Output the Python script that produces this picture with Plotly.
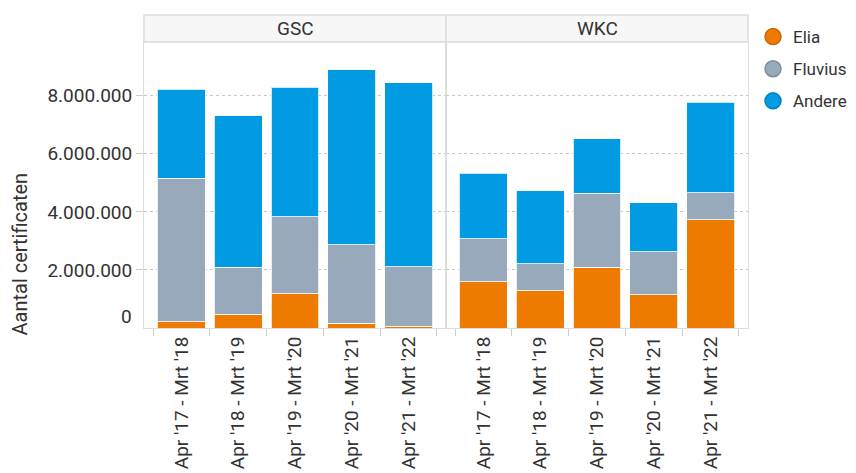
import plotly.graph_objects as go

periods = ["Apr '17 - Mrt '18", "Apr '18 - Mrt '19", "Apr '19 - Mrt '20",
           "Apr '20 - Mrt '21", "Apr '21 - Mrt '22"]
panels = ["GSC", "WKC"]
series = ["Elia", "Fluvius", "Andere"]

gsc_elia = [220000, 470000, 1180000, 160000, 60000]
gsc_fluvius = [4940000, 1630000, 2650000, 2710000, 2050000]
gsc_andere = [3070000, 5210000, 4460000, 6030000, 6340000]

wkc_elia = [1590000, 1280000, 2100000, 1140000, 3720000]
wkc_fluvius = [1480000, 930000, 2540000, 1480000, 940000]
wkc_andere = [2260000, 2510000, 1870000, 1690000, 3110000]

y_ticks = [2000000, 4000000, 6000000, 8000000]

colors = {"Elia": "#EF7A00", "Fluvius": "#97A9BA", "Andere": "#009BE3"}
outlines = {"Elia": "#C96600", "Fluvius": "#7D8D9C", "Andere": "#0080C0"}

data = {
    "GSC": {"Elia": gsc_elia, "Fluvius": gsc_fluvius, "Andere": gsc_andere},
    "WKC": {"Elia": wkc_elia, "Fluvius": wkc_fluvius, "Andere": wkc_andere},
}

FONT = "Roboto, Arial, sans-serif"
TXT = "#333333"

fig = go.Figure()
for i, p in enumerate(panels):
    ax = "" if i == 0 else "2"
    for s in series:
        fig.add_trace(go.Bar(
            x=periods, y=data[p][s], name=s,
            xaxis="x" + ax, yaxis="y" + ax,
            marker=dict(color=colors[s], line=dict(color="rgba(255,255,255,0.8)", width=1)),
            showlegend=False, hovertemplate="%{y:,.0f}<extra>" + s + "</extra>",
        ))

# legend entries with circular symbols
for s in series:
    fig.add_trace(go.Scatter(
        x=[None], y=[None], mode="markers", name=s, legendgroup=s,
        marker=dict(symbol="circle", size=20, color=colors[s],
                    line=dict(color=outlines[s], width=1.5)),
        xaxis="x", yaxis="y",
    ))

# the page body adds an 8px margin; the figure is sized to fit inside the window
W, H = 848, 465
ml, mr, mt, mb = 136, 108, 7, 145
plot_w = W - ml - mr
plot_h = H - mt - mb
y_top = (320 - 34) / plot_h  # top of plotting area in paper coords (below strip)

xcommon = dict(
    type="category", range=[-0.66, 4.66], tickangle=-90, automargin=False,
    tickson="boundaries", ticks="outside", ticklen=7, tickcolor="#cccccc",
    showline=True, linecolor="#dddddd", linewidth=1, mirror=True,
    showgrid=False, tickfont=dict(family=FONT, size=19, color=TXT),
    fixedrange=True,
)
ycommon = dict(
    range=[0, 9850000], tickvals=y_ticks, tickformat=",.0f", automargin=False,
    showgrid=True, gridcolor="#c8c8c8", griddash="dot", gridwidth=1,
    zeroline=False, showline=True, linecolor="#dddddd", mirror=True,
    ticks="outside", ticklen=7, tickcolor="#cccccc",
    tickfont=dict(family=FONT, size=19, color=TXT), fixedrange=True,
)

half = 0.5
fig.update_layout(
    width=W, height=H,
    margin=dict(l=ml, r=mr, t=mt, b=mb, autoexpand=False),
    paper_bgcolor="white", plot_bgcolor="white",
    barmode="stack", bargap=0.155,
    separators=",.",
    font=dict(family=FONT, color=TXT, size=16),
    xaxis=dict(domain=[0, half], anchor="y", **xcommon),
    xaxis2=dict(domain=[half, 1], anchor="y2", **xcommon),
    yaxis=dict(domain=[0, y_top], anchor="x", **ycommon),
    yaxis2=dict(domain=[0, y_top], anchor="x2", matches="y", showticklabels=False,
                **{k: v for k, v in ycommon.items() if k not in ("tickfont", "ticks", "ticklen", "tickcolor")}),
    legend=dict(x=1 + 5 / plot_w, xanchor="left", y=0.987, yanchor="top",
                font=dict(family=FONT, size=17, color=TXT),
                traceorder="grouped", tracegroupgap=7, itemsizing="trace",
                bgcolor="rgba(0,0,0,0)"),
    showlegend=True,
)

shapes = []
annotations = []
for i, p in enumerate(panels):
    x0, x1 = (0, half) if i == 0 else (half, 1)
    shapes.append(dict(type="rect", xref="paper", yref="paper", x0=x0, x1=x1,
                       y0=y_top, y1=1, fillcolor="#f7f7f7",
                       line=dict(color="#dddddd", width=1.5), layer="below"))
    annotations.append(dict(text=p, xref="paper", yref="paper", x=(x0 + x1) / 2,
                            y=(y_top + 1) / 2, showarrow=False, xanchor="center",
                            yanchor="middle", font=dict(family=FONT, size=19, color=TXT)))

# zero label (drawn slightly raised as in the reference)
annotations.append(dict(text="0", xref="paper", yref="y", x=0, y=0, xanchor="right",
                        yanchor="middle", xshift=-10, yshift=12, showarrow=False,
                        font=dict(family=FONT, size=19, color=TXT)))
# y-axis title
annotations.append(dict(text="Aantal certificaten", xref="paper", yref="paper",
                        x=0, y=(H - mb - 246) / plot_h, xshift=-124.5,
                        xanchor="center", yanchor="middle", textangle=-90,
                        showarrow=False, font=dict(family=FONT, size=20, color=TXT)))

fig.update_layout(shapes=shapes, annotations=annotations)

fig.write_html("out.html")
